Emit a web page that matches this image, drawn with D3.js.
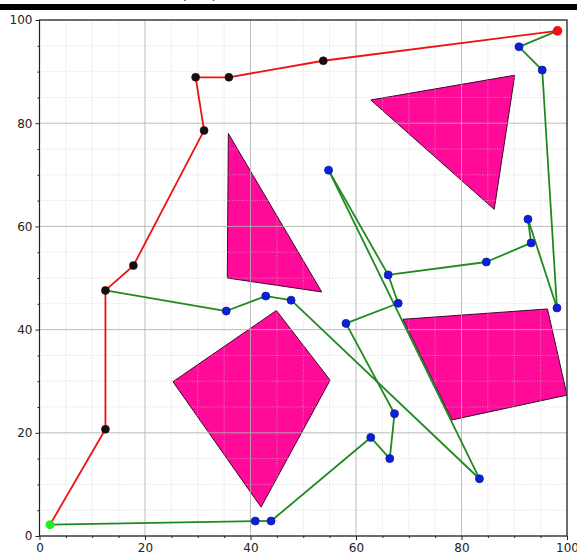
<!DOCTYPE html>
<html>
<head>
<meta charset="utf-8">
<script src="https://cdn.jsdelivr.net/npm/d3@7"></script>
<style>
  html, body { margin: 0; padding: 0; background: #fff; }
  svg { display: block; font-family: "DejaVu Sans", sans-serif; }
</style>
</head>
<body>
<svg id="chart" width="577" height="554"></svg>
<script>
// Obstacles (polygon vertices in plot units)
const obstacles = [
  [[62.8, 84.5], [90.1, 89.3], [86.2, 63.3]],
  [[35.8, 78.0], [35.6, 50.0], [53.5, 47.3]],
  [[25.3, 29.9], [44.9, 43.7], [55.1, 30.2], [42.0, 5.6]],
  [[68.9, 42.0], [96.3, 44.0], [100.0, 27.3], [78.2, 22.5]]
];

const start = [2.0, 2.2];
const goal = [98.2, 97.9];

// Tree nodes
const treeNodes = {
  a1: [40.9, 2.9], a2: [43.9, 2.9], O: [62.8, 19.1], N: [66.4, 15.0],
  M: [67.3, 23.7], L: [58.1, 41.2], K: [68.0, 45.1], B: [66.1, 50.6],
  A: [54.8, 70.9], C: [83.4, 11.1], S: [47.7, 45.7], R: [42.9, 46.5],
  Q: [35.4, 43.6], D: [84.7, 53.1], E: [93.2, 56.8], F: [92.6, 61.4],
  G: [98.1, 44.2], H: [95.3, 90.3], I: [90.9, 94.8]
};

// Tree edges (node names; "start", "goal" and "P" refer to path points)
const treeEdges = [
  ["start", "a1"], ["a1", "a2"], ["a2", "O"], ["O", "N"], ["N", "M"],
  ["M", "L"], ["L", "K"], ["K", "B"], ["B", "A"], ["A", "C"],
  ["C", "S"], ["S", "R"], ["R", "Q"], ["Q", "P"], ["B", "D"],
  ["D", "E"], ["E", "F"], ["F", "G"], ["G", "H"], ["H", "I"], ["I", "goal"]
];

// Final path from start to goal
const pathPoints = [
  [2.0, 2.2], [12.5, 20.7], [12.5, 47.6], [17.8, 52.4], [31.2, 78.6],
  [29.6, 88.9], [35.9, 88.9], [53.8, 92.1], [98.2, 97.9]
];

const majorTicks = [0, 20, 40, 60, 80, 100];
const minorTicks = d3.range(0, 101, 5);

const svg = d3.select("#chart");
const W = 577;
const mLeft = 39.5, mRight = 567, mTop = 20, mBottom = 536;

const x = d3.scaleLinear().domain([0, 100]).range([mLeft, mRight]);
const y = d3.scaleLinear().domain([0, 100]).range([mBottom, mTop]);

// header band
svg.append("text")
  .attr("x", 199).attr("y", 0)
  .attr("text-anchor", "middle")
  .attr("font-size", 13).attr("fill", "#222")
  .text("(RRT)");
svg.append("rect").attr("x", 0).attr("y", 4).attr("width", W).attr("height", 6).attr("fill", "#000");

const plot = svg.append("g");
plot.append("clipPath").attr("id", "clip")
  .append("rect").attr("x", mLeft).attr("y", mTop).attr("width", mRight - mLeft).attr("height", mBottom - mTop);

// obstacles
const polyLine = d3.line().x(d => x(d[0])).y(d => y(d[1])).curve(d3.curveLinearClosed);
plot.append("g").attr("clip-path", "url(#clip)")
  .selectAll("path").data(obstacles).join("path")
  .attr("d", polyLine)
  .attr("fill", "#ff0a99")
  .attr("stroke", "#3a0a2a")
  .attr("stroke-width", 1);

// grid
const minorOnly = minorTicks.filter(t => t % 20 !== 0);
const grid = plot.append("g");
grid.selectAll("line.mx").data(minorOnly).join("line").attr("class", "mx")
  .attr("x1", d => x(d)).attr("x2", d => x(d)).attr("y1", mTop).attr("y2", mBottom)
  .attr("stroke", "#c8c8c8").attr("stroke-opacity", 0.8).attr("stroke-width", 0.8).attr("stroke-dasharray", "1,1.5");
grid.selectAll("line.my").data(minorOnly).join("line").attr("class", "my")
  .attr("y1", d => y(d)).attr("y2", d => y(d)).attr("x1", mLeft).attr("x2", mRight)
  .attr("stroke", "#c8c8c8").attr("stroke-opacity", 0.8).attr("stroke-width", 0.8).attr("stroke-dasharray", "1,1.5");
grid.selectAll("line.Mx").data(majorTicks).join("line").attr("class", "Mx")
  .attr("x1", d => x(d)).attr("x2", d => x(d)).attr("y1", mTop).attr("y2", mBottom)
  .attr("stroke", "#b0b0b0").attr("stroke-opacity", 0.85).attr("stroke-width", 1);
grid.selectAll("line.My").data(majorTicks).join("line").attr("class", "My")
  .attr("y1", d => y(d)).attr("y2", d => y(d)).attr("x1", mLeft).attr("x2", mRight)
  .attr("stroke", "#b0b0b0").attr("stroke-opacity", 0.85).attr("stroke-width", 1);

// tree edges
const lookup = Object.assign({}, treeNodes, { start: start, goal: goal, P: pathPoints[2] });
plot.append("g").selectAll("line").data(treeEdges).join("line")
  .attr("x1", d => x(lookup[d[0]][0])).attr("y1", d => y(lookup[d[0]][1]))
  .attr("x2", d => x(lookup[d[1]][0])).attr("y2", d => y(lookup[d[1]][1]))
  .attr("stroke", "#1f8a1f").attr("stroke-width", 1.8);

// path
plot.append("path").datum(pathPoints)
  .attr("d", d3.line().x(d => x(d[0])).y(d => y(d[1])))
  .attr("fill", "none").attr("stroke", "#ee1111").attr("stroke-width", 1.8);

// tree node markers
plot.append("g").selectAll("circle").data(Object.values(treeNodes)).join("circle")
  .attr("cx", d => x(d[0])).attr("cy", d => y(d[1])).attr("r", 4)
  .attr("fill", "#0a1fe0").attr("stroke", "#10208a").attr("stroke-width", 0.8);

// path node markers
plot.append("g").selectAll("circle").data(pathPoints.slice(1, -1)).join("circle")
  .attr("cx", d => x(d[0])).attr("cy", d => y(d[1])).attr("r", 4)
  .attr("fill", "#111").attr("stroke", "#400").attr("stroke-width", 0.6);

// start and goal
plot.append("circle").attr("cx", x(start[0])).attr("cy", y(start[1])).attr("r", 4.5).attr("fill", "#22ee22");
plot.append("circle").attr("cx", x(goal[0])).attr("cy", y(goal[1])).attr("r", 4.8).attr("fill", "#ee1111");

// axes
const xAxis = d3.axisBottom(x).tickValues(majorTicks).tickSize(4).tickPadding(3).tickFormat(d3.format("d"));
const yAxis = d3.axisLeft(y).tickValues(majorTicks).tickSize(4).tickPadding(3).tickFormat(d3.format("d"));
const gx = svg.append("g").attr("transform", `translate(0,${mBottom})`).call(xAxis);
const gy = svg.append("g").attr("transform", `translate(${mLeft},0)`).call(yAxis);
svg.append("g").attr("transform", `translate(0,${mBottom})`)
  .call(d3.axisBottom(x).tickValues(minorOnly).tickSize(2).tickFormat(""))
  .select(".domain").remove();
svg.append("g").attr("transform", `translate(${mLeft},0)`)
  .call(d3.axisLeft(y).tickValues(minorOnly).tickSize(2).tickFormat(""))
  .select(".domain").remove();
[gx, gy].forEach(g => {
  g.select(".domain").remove();
  g.selectAll("text").attr("font-size", 12).attr("fill", "#222").attr("font-family", "DejaVu Sans, sans-serif");
});
svg.selectAll(".tick line").attr("stroke", "#222");

// frame
svg.append("rect").attr("x", mLeft).attr("y", mTop).attr("width", mRight - mLeft).attr("height", mBottom - mTop)
  .attr("fill", "none").attr("stroke", "#222").attr("stroke-width", 1.2);
</script>
</body>
</html>
